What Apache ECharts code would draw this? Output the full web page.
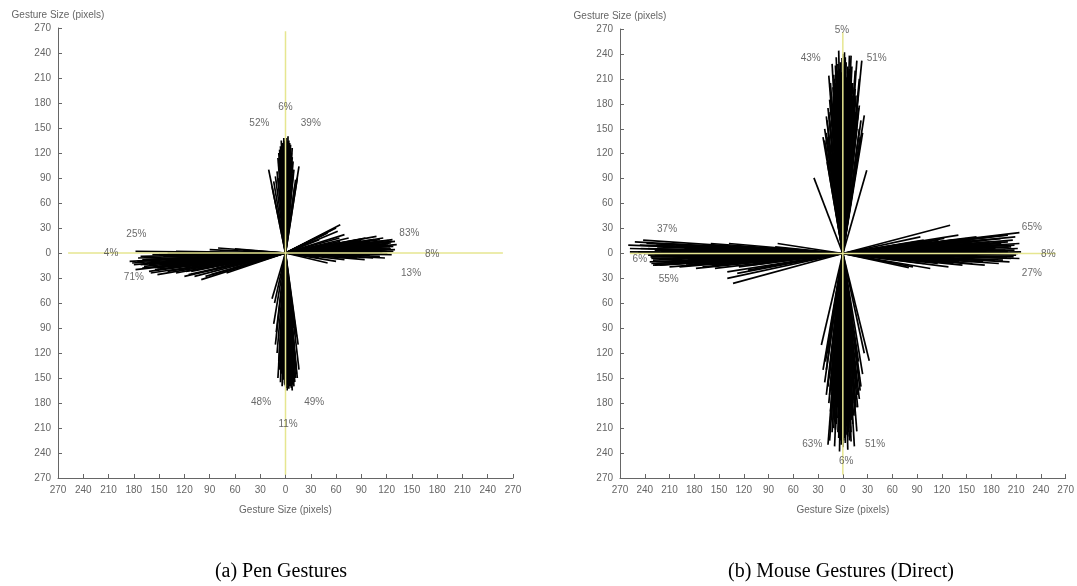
<!DOCTYPE html>
<html>
<head>
<meta charset="utf-8">
<script src="https://cdn.jsdelivr.net/npm/echarts@6/dist/echarts.min.js"></script>
<style>
  html, body { margin: 0; padding: 0; background: #ffffff; }
  #chart { width: 1077px; height: 586px; }
</style>
</head>
<body>
<div id="chart"></div>
<script>
// Gesture end points (dx, dy) in pixels, one array per direction.
// Each gesture is drawn as a segment from the origin to its end point.

// (a) Pen gestures
const penUp = [
  [-2,132],[0,136],[2,130],[4,128],[-4,125],[6,122],[-6,118],[1,138],[3,126],[-1,120],
  [8,115],[-8,112],[5,110],[-5,105],[10,100],[-10,98],[7,104],[-3,115],[2,118],[-7,108],
  [9,95],[-12,92],[12,88],[-14,86],[14,90],[-20,100],[16,104],[-16,80],[0,110],[4,100],
  [-9,90],[11,80],[-2,124],[6,130],[-5,135],[3,140],[1,128],[-3,130],[5,118],[-1,134],
  [-1,126],[1,122],[3,118],[-3,122],[0,128],[2,134],[-2,138],[4,135],[-4,132],[6,126],
  [-6,128],[7,120],[-7,124],[8,126],[-8,120],[5,132],[9,110],[-9,114],[0,118],[1,133]
];
const penDown = [
  [0,-150],[3,-158],[6,-155],[8,-150],[10,-145],[-3,-148],[-6,-140],[5,-160],[12,-135],[-8,-130],
  [2,-140],[9,-158],[14,-150],[-4,-160],[7,-162],[-10,-120],[11,-125],[-12,-110],[13,-100],[-6,-100],
  [4,-120],[-2,-130],[-14,-85],[15,-110],[-16,-55],[-13,-60],[8,-100],[-5,-115],[1,-162],[6,-135],
  [-9,-150],[16,-140],[-11,-95],[10,-90],[3,-110],[4,-152],[-1,-156],[7,-145],[11,-155],[2,-165],
  [-1,-158],[1,-150],[2,-155],[3,-145],[5,-150],[6,-160],[8,-158],[9,-148],[-2,-152],[-5,-145],
  [-7,-140],[12,-150],[13,-145],[4,-163],[0,-160],[10,-160],[-3,-138],[6,-150],[8,-165],[-6,-155]
];
const penRight = [
  [128,8],[125,12],[130,4],[122,15],[118,10],[120,2],[126,-2],[115,14],[110,6],[105,16],
  [112,-4],[100,10],[95,18],[90,4],[124,6],[132,10],[108,20],[80,14],[85,-6],[60,-10],
  [50,-12],[70,-8],[40,-6],[65,34],[60,30],[55,28],[50,24],[45,22],[62,26],[40,16],
  [70,22],[75,18],[118,-6],[100,-3],[130,14],[115,0],[90,12],[127,16],[121,-1],[98,8],
  [125,5],[120,8],[115,9],[110,12],[105,4],[100,14],[95,6],[90,15],[85,10],[80,4],
  [75,12],[70,6],[65,14],[60,8],[55,12],[122,11],[118,4],[112,16],[108,2],[102,8],
  [96,12],[92,-2],[88,16],[82,-4],[76,-6],[72,10],[68,-4],[64,18],[58,4],[128,2],
  [126,14],[116,18],[104,-6],[94,-8]
];
const penLeft = [
  [-185,-10],[-180,-14],[-178,2],[-175,-6],[-170,-18],[-165,-12],[-160,-8],[-155,-20],[-150,-16],[-145,-4],
  [-140,-22],[-135,-10],[-130,-24],[-125,-14],[-120,-6],[-115,-26],[-110,-18],[-105,-12],[-100,-32],[-95,-28],
  [-90,4],[-85,-20],[-80,6],[-75,-14],[-70,-24],[-60,5],[-55,-10],[-50,3],[-172,-4],[-168,-16],
  [-158,-2],[-148,-12],[-138,-18],[-128,-8],[-118,-22],[-108,-28],[-98,-14],[-88,-26],[-162,-22],[-152,-26],
  [-182,-12],[-176,-10],[-172,-14],[-166,-8],[-162,-14],[-156,-12],[-152,-18],[-146,-14],[-142,-8],[-136,-16],
  [-132,-14],[-126,-20],[-122,-12],[-116,-16],[-112,-22],[-106,-20],[-102,-16],[-96,-22],[-92,-10],[-86,-14],
  [-82,-18],[-76,-8],[-72,-16],[-66,-12],[-62,-18],[-120,-2],[-110,0],[-100,-4],[-130,2],[-140,0],
  [-150,-2],[-170,-8],[-178,-20],[-160,-24],[-120,-28]
];
const penLabels = [
  [0,175,'6%'],[-31,156,'52%'],[30,156,'39%'],
  [-177,22,'25%'],[-207,0,'4%'],[-180,-29,'71%'],
  [147,24,'83%'],[174,-1,'8%'],[149,-24,'13%'],
  [-29,-179,'48%'],[34,-179,'49%'],[3,-205,'11%']
];

// (b) Mouse gestures (direct)
const mouseUp = [
  [-5,244],[0,240],[3,236],[-3,230],[6,225],[-7,220],[9,215],[-10,210],[2,228],[12,205],
  [-12,200],[15,198],[-14,192],[18,186],[-16,185],[20,178],[-18,175],[5,212],[-6,205],[10,195],
  [-11,188],[14,180],[-2,218],[7,200],[-9,196],[16,170],[-20,165],[22,160],[-22,150],[24,145],
  [-24,140],[1,190],[4,170],[-4,175],[8,160],[-8,155],[13,150],[-14,130],[17,232],[23,232],
  [26,166],[29,100],[-17,214],[-35,91],[-22,136],[19,120],[-19,110],[11,225],[-1,200],[6,185],
  [-5,160],[12,135],[-10,125],[20,210],[-13,228],[2,242],[-8,236],[8,238],[15,220],[-15,205],
  [0,225],[1,215],[-1,235],[3,220],[-3,212],[4,230],[-4,222],[5,200],[-5,190],[6,215],
  [-6,228],[7,210],[-7,185],[8,222],[-8,212],[9,190],[-9,205],[10,180],[-10,170],[11,205],
  [-11,215],[12,190],[-12,180],[13,170],[-13,160],[14,200],[-14,175],[15,165],[-15,150],[16,190],
  [-16,160],[17,150],[-17,170],[18,165],[-18,140],[19,175],[-19,160],[20,150],[-20,145],[21,140],
  [-21,130],[2,205],[-2,198],[0,180],[3,188],[-3,176],[10,238],[-9,226]
];
const mouseDown = [
  [0,-233],[3,-228],[-3,-225],[6,-220],[-6,-215],[9,-210],[-9,-212],[12,-205],[-12,-200],[2,-222],
  [-2,-218],[15,-195],[-15,-190],[18,-185],[-17,-180],[5,-208],[-5,-200],[8,-195],[-8,-188],[20,-175],
  [-20,-170],[11,-185],[-11,-178],[14,-170],[-14,-165],[22,-160],[-22,-155],[1,-195],[4,-180],[-4,-175],
  [24,-145],[-24,-140],[16,-150],[-16,-145],[32,-129],[-18,-230],[-16,-225],[14,-232],[10,-226],[7,-160],
  [-7,-150],[19,-130],[-19,-120],[26,-120],[-26,-110],[0,-170],[3,-150],[-10,-232],[6,-236],[-4,-238],
  [17,-214],[-13,-215],[10,-200],[-1,-210],
  [0,-215],[1,-225],[-1,-205],[2,-198],[-2,-230],[3,-212],[-3,-195],[4,-218],[-4,-210],[5,-190],
  [-5,-222],[6,-205],[-6,-198],[7,-215],[-7,-185],[8,-225],[-8,-205],[9,-190],[-9,-175],[10,-215],
  [-10,-195],[11,-200],[-11,-210],[12,-180],[-12,-170],[13,-195],[-13,-185],[14,-150],[-14,-200],[15,-175],
  [-15,-160],[16,-185],[-16,-170],[17,-160],[-17,-150],[18,-170],[-18,-160],[20,-150],[-20,-140],[21,-165],
  [-21,-130],[2,-180],[-3,-165]
];
const mouseRight = [
  [216,2],[212,6],[210,-2],[208,10],[204,-6],[200,14],[197,4],[194,-8],[191,18],[214,25],
  [200,22],[183,12],[178,-4],[174,16],[170,-10],[166,8],[162,20],[157,-12],[153,2],[149,14],
  [145,-14],[140,22],[136,-6],[132,10],[128,-16],[123,18],[119,-10],[130,34],[115,4],[106,-18],
  [102,14],[98,-12],[94,20],[85,-16],[77,12],[80,-17],[214,12],[206,16],[202,-10],[196,22],
  [189,-12],[180,20],[172,-14],[160,12],[151,-8],[143,6],[134,-12],[126,14],[117,-4],[214,-6],
  [209,20],[199,-4],[185,6],[177,8],[163,-2],[155,16],
  [212,0],[208,4],[204,8],[200,2],[196,10],[191,0],[187,12],[183,4],[178,14],[174,2],
  [170,16],[166,-4],[162,6],[157,14],[153,-4],[149,6],[145,16],[140,-2],[136,12],[132,-8],
  [128,8],[123,-6],[119,14],[115,-12],[111,6],[106,12],[102,-6],[98,16],[94,-6],[89,10],
  [85,4],[81,-8],[207,-4],[201,8],[192,12],[184,-8],[175,10],[167,-8],[158,4],[150,18],
  [141,-10],[133,16],[124,4],[116,16],[107,0],[99,6]
];
const mouseLeft = [
  [-260,10],[-258,2],[-232,-4],[-252,14],[-230,-8],[-245,6],[-226,-12],[-238,12],[-235,0],[-230,-14],
  [-225,8],[-220,-6],[-215,12],[-210,-16],[-205,4],[-200,-10],[-195,10],[-190,-14],[-185,2],[-180,-12],
  [-175,8],[-170,-16],[-165,-4],[-160,12],[-155,-18],[-150,-8],[-145,6],[-140,-22],[-133,-36],[-140,-30],
  [-125,-12],[-120,8],[-115,-20],[-110,-8],[-100,6],[-95,-16],[-90,4],[-79,12],[-234,-10],[-228,-14],
  [-242,16],[-232,-12],[-222,-14],[-212,2],[-198,-16],[-188,-8],[-178,-18],[-168,10],[-158,-14],[-148,-14],
  [-138,12],[-128,-24],[-190,-4],[-170,-10],[-228,4],[-218,-2],
  [-258,6],[-236,-2],[-246,10],[-233,-4],[-236,6],[-232,-6],[-226,10],[-220,2],[-216,-10],[-210,8],
  [-206,-6],[-202,10],[-196,-4],[-192,6],[-186,-10],[-182,4],[-176,-6],[-172,8],[-166,-10],[-162,4],
  [-156,-6],[-152,8],[-146,-12],[-142,2],[-136,-8],[-132,6],[-126,-16],[-122,-4],[-116,4],[-112,-14],
  [-106,0],[-102,-10],[-96,6],[-92,-8],[-86,2],[-82,8],[-248,2],[-240,0],[-228,-2],[-214,-2],
  [-200,-2],[-184,-4],[-160,-4]
];
const mouseLabels = [
  [-1,268,'5%'],[-39,235,'43%'],[41,235,'51%'],
  [-213,29,'37%'],[-246,-7,'6%'],[-211,-31,'55%'],
  [229,31,'65%'],[249,-1,'8%'],[229,-24,'27%'],
  [-37,-229,'63%'],[39,-229,'51%'],[4,-250,'6%']
];

// Axis ticks run from -270 to 270 every 30; labels show magnitudes.
const AXIS_MIN = -270, AXIS_MAX = 270, AXIS_STEP = 30;
// Reach of the pale guide lines through the origin.
const CROSS_X = 258, CROSS_Y = 266;

const axisGray = '#666666';
const labelFont = 'Liberation Sans, Arial, sans-serif';

function xAxisFor(gridIndex) {
  return {
    type: 'value', gridIndex,
    min: AXIS_MIN, max: AXIS_MAX, interval: AXIS_STEP,
    name: 'Gesture Size (pixels)', nameLocation: 'middle', nameGap: 27,
    nameTextStyle: { fontSize: 10, color: axisGray, fontFamily: labelFont },
    axisLine: { onZero: false, lineStyle: { color: axisGray, width: 1 } },
    axisTick: { inside: true, length: 4, lineStyle: { color: axisGray } },
    axisLabel: { formatter: v => String(Math.abs(v)), fontSize: 10, color: axisGray,
                 margin: 7, fontFamily: labelFont, showMinLabel: true, showMaxLabel: true },
    splitLine: { show: false }
  };
}
function yAxisFor(gridIndex) {
  return {
    type: 'value', gridIndex,
    min: AXIS_MIN, max: AXIS_MAX, interval: AXIS_STEP,
    name: 'Gesture Size (pixels)', nameLocation: 'end', nameGap: 8,
    nameTextStyle: { fontSize: 10, color: axisGray, fontFamily: labelFont, align: 'center' },
    axisLine: { onZero: false, lineStyle: { color: axisGray, width: 1 } },
    axisTick: { inside: true, length: 4, lineStyle: { color: axisGray } },
    axisLabel: { formatter: v => String(Math.abs(v)), fontSize: 10, color: axisGray,
                 margin: 7, fontFamily: labelFont, showMinLabel: true, showMaxLabel: true },
    splitLine: { show: false }
  };
}

function gestureSeries(gridIndex, arms, width) {
  return {
    type: 'custom', xAxisIndex: gridIndex, yAxisIndex: gridIndex,
    data: [].concat(...arms), encode: { x: 0, y: 1 }, z: 2, silent: true,
    renderItem: function (params, api) {
      const o = api.coord([0, 0]);
      const p = api.coord([api.value(0), api.value(1)]);
      return {
        type: 'line',
        shape: { x1: o[0], y1: o[1], x2: p[0], y2: p[1] },
        style: { stroke: '#000000', lineWidth: width }
      };
    }
  };
}

function crossSeries(gridIndex, points) {
  return {
    type: 'line', xAxisIndex: gridIndex, yAxisIndex: gridIndex,
    data: points, symbol: 'none', z: 3, silent: true,
    lineStyle: { color: '#e6e690', width: 1.5 }
  };
}

function labelSeries(gridIndex, labels) {
  return {
    type: 'scatter', xAxisIndex: gridIndex, yAxisIndex: gridIndex,
    symbolSize: 0, z: 4, silent: true,
    data: labels.map(l => ({ name: l[2], value: [l[0], l[1]] })),
    label: { show: true, position: 'inside', formatter: p => p.name,
             fontSize: 10, color: '#444444', fontFamily: labelFont }
  };
}

const chart = echarts.init(document.getElementById('chart'), null, { renderer: 'canvas' });

const captionFont = '20px "Liberation Serif", "Times New Roman", serif';

chart.setOption({
  backgroundColor: '#ffffff',
  animation: false,
  grid: [
    { left: 58, top: 28, width: 455, height: 450 },
    { left: 620, top: 29, width: 452, height: 449 }
  ],
  xAxis: [xAxisFor(0), xAxisFor(1)],
  yAxis: [yAxisFor(0), yAxisFor(1)],
  series: [
    gestureSeries(0, [penUp, penDown, penRight, penLeft], 1.7),
    crossSeries(0, [[-CROSS_X, 0], [CROSS_X, 0]]),
    crossSeries(0, [[0, -CROSS_Y], [0, CROSS_Y]]),
    labelSeries(0, penLabels),
    gestureSeries(1, [mouseUp, mouseDown, mouseRight, mouseLeft], 1.7),
    crossSeries(1, [[-CROSS_X, 0], [CROSS_X, 0]]),
    crossSeries(1, [[0, -CROSS_Y], [0, CROSS_Y]]),
    labelSeries(1, mouseLabels)
  ],
  graphic: [
    { type: 'text', x: 281, y: 572, style: { text: '(a) Pen Gestures', font: captionFont,
      fill: '#000', align: 'center', verticalAlign: 'middle' } },
    { type: 'text', x: 841, y: 572, style: { text: '(b) Mouse Gestures (Direct)', font: captionFont,
      fill: '#000', align: 'center', verticalAlign: 'middle' } }
  ]
});
</script>
</body>
</html>
